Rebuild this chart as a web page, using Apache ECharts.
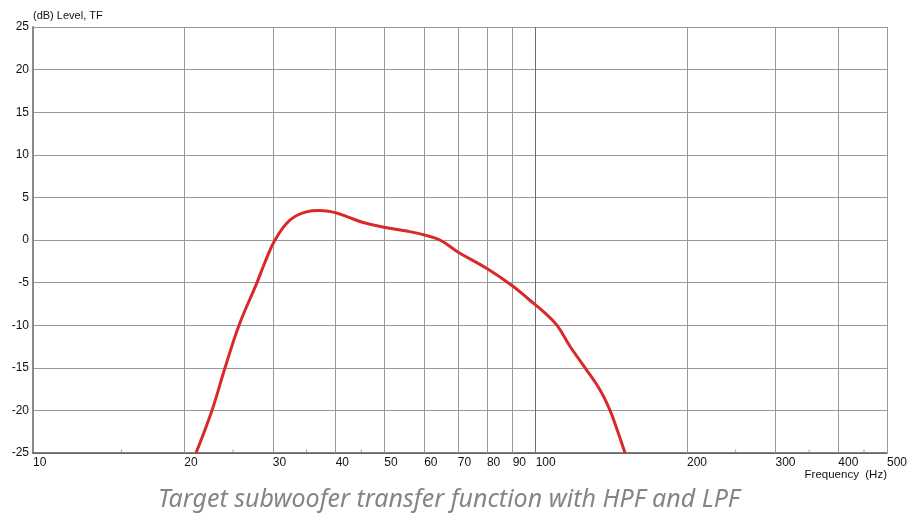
<!DOCTYPE html>
<html>
<head>
<meta charset="utf-8">
<script src="https://cdn.jsdelivr.net/npm/echarts@6/dist/echarts.min.js"></script>
<style>html,body{margin:0;padding:0;background:#fff}#c{width:907px;height:515px}</style>
</head>
<body>
<div id="c"></div>
<script>
// Data
var freqHz = [21.1, 22.7, 24.1, 25.7, 27.9, 28.9, 30.3, 32.4, 35.0, 37.2, 40, 42.1, 45.4, 50, 55.4, 60, 64.5, 70, 80, 90, 97.5, 103.6, 110.2, 117.1, 125.4, 134.3, 140.6, 146.1, 150.6];
var levelDb = [-25, -20, -15, -10, -5, -2.7, 0, 2.3, 3.3, 3.45, 3.2, 2.75, 2.05, 1.5, 1.05, 0.6, 0, -1.4, -3.35, -5.4, -7.1, -8.4, -10, -12.5, -15, -17.6, -20, -22.7, -25];
var gridFreqs = [10, 20, 30, 40, 50, 60, 70, 80, 90, 100, 200, 300, 400, 500];
var minorTickFreqs = [15, 25, 35, 45, 150, 250, 350, 450];
var yTicks = [-25, -20, -15, -10, -5, 0, 5, 10, 15, 20, 25];
var yAxisTitle = '(dB) Level, TF';
var xAxisTitle = 'Frequency  (Hz)';
var caption = 'Target subwoofer transfer function with HPF and LPF';

var chart = echarts.init(document.getElementById('c'), null, {renderer: 'canvas'});
var FONT = '"Liberation Sans", Arial, sans-serif';

var markData = gridFreqs.map(function (f) {
  return {
    xAxis: f,
    lineStyle: {
      color: f === 10 ? 'rgba(0,0,0,0)' : (f === 100 ? '#6e6e6e' : '#999999'),
      width: 1,
      type: 'solid'
    }
  };
});

var option = {
  animation: false,
  backgroundColor: '#ffffff',
  title: {
    text: caption,
    left: 153,
    top: 482,
    textStyle: {
      fontFamily: '"Noto Sans", "Open Sans", sans-serif',
      fontStyle: 'italic',
      fontWeight: 'normal',
      fontSize: 25,
      color: '#858585'
    }
  },
  grid: {left: 33, right: 20, top: 27, bottom: 62, containLabel: false},
  xAxis: {
    type: 'log',
    logBase: 10,
    min: 10,
    max: 500,
    name: xAxisTitle,
    nameLocation: 'end',
    nameGap: 0,
    nameTextStyle: {
      fontFamily: FONT, fontSize: 11.5, color: '#111',
      align: 'right', verticalAlign: 'top', padding: [16, 0, 0, 0]
    },
    axisLine: {show: true, onZero: false, lineStyle: {color: '#555', width: 1.5}},
    axisTick: {show: false},
    axisLabel: {show: false},
    splitLine: {show: false},
    minorTick: {show: false},
    minorSplitLine: {show: false}
  },
  yAxis: {
    type: 'value',
    min: -25,
    max: 25,
    interval: 5,
    name: yAxisTitle,
    nameLocation: 'end',
    nameGap: 6,
    nameTextStyle: {fontFamily: FONT, fontSize: 11, color: '#111', align: 'left', padding: [0, 0, 0, 0]},
    axisLine: {show: true, onZero: false, lineStyle: {color: '#8a8a8a', width: 2}},
    axisTick: {show: false},
    axisLabel: {
      fontFamily: FONT, fontSize: 12, color: '#111', margin: 4,
      customValues: yTicks
    },
    splitLine: {show: true, lineStyle: {color: '#999999', width: 1}}
  },
  series: [
    {
      type: 'line',
      data: freqHz.map(function (f, i) { return [f, levelDb[i]]; }),
      smooth: 0.4,
      showSymbol: false,
      symbol: 'none',
      clip: true,
      lineStyle: {color: '#d9292b', width: 3},
      z: 5,
      markLine: {
        silent: true,
        symbol: ['none', 'none'],
        animation: false,
        label: {
          show: true,
          position: 'start',
          formatter: function (p) { return String(p.value); },
          fontFamily: FONT,
          fontSize: 12,
          color: '#111',
          align: 'left',
          distance: 4
        },
        data: markData,
        z: 1
      }
    },
    {
      type: 'scatter',
      data: minorTickFreqs.map(function (f) { return [f, -25]; }),
      symbol: 'rect',
      symbolSize: [1, 3],
      symbolOffset: [0, -2],
      itemStyle: {color: '#888'},
      silent: true,
      z: 2
    }
  ]
};
chart.setOption(option);
</script>
</body>
</html>
